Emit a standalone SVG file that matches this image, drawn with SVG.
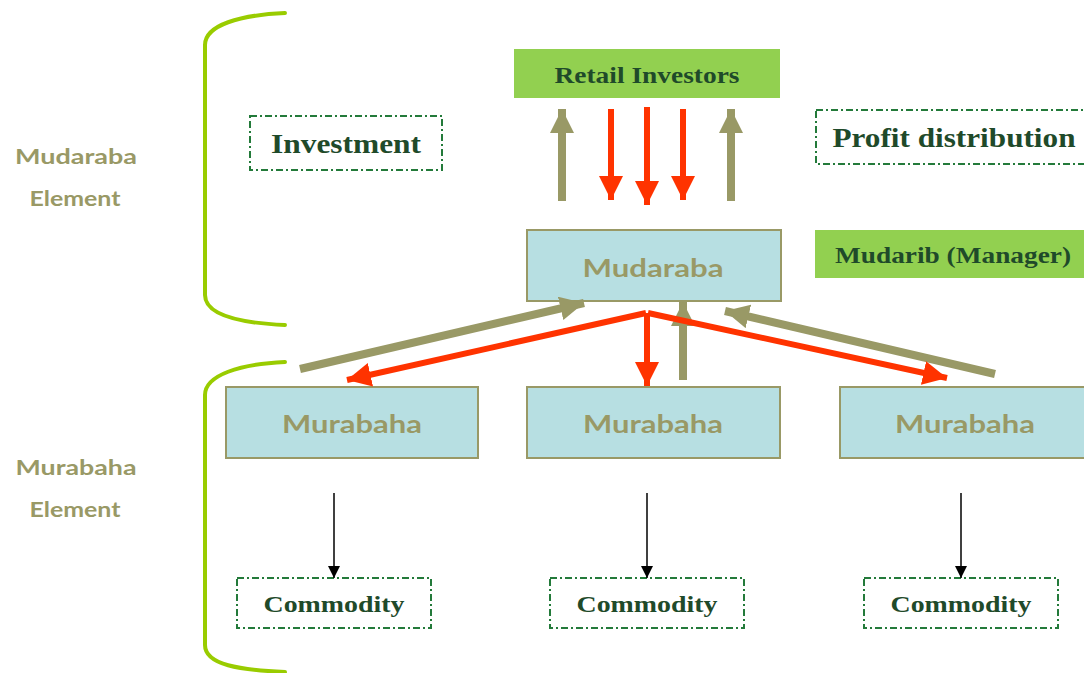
<svg xmlns="http://www.w3.org/2000/svg" width="1084" height="673" viewBox="0 0 1084 673">
<style>
.green{fill:#92d050;}
.blue{fill:#b7dfe2;stroke:#999966;stroke-width:2;}
.dash{fill:none;stroke:#237a3a;stroke-width:2;stroke-dasharray:7 3 2 3;}
.serif{font-family:"Liberation Serif","DejaVu Serif",serif;font-weight:bold;fill:#1f4a2a;text-anchor:middle;}
.sans{font-family:Lato,"DejaVu Sans",sans-serif;font-weight:bold;fill:#999966;text-anchor:middle;}
.brace{fill:none;stroke:#99cc00;stroke-width:4;stroke-linecap:round;}
.olive{stroke:#999966;stroke-width:8;fill:none;}
.red{stroke:#ff3300;stroke-width:6;fill:none;}
.blk{stroke:#000;stroke-width:1.5;fill:none;}
</style>
<defs>
<marker id="hOlive" markerUnits="userSpaceOnUse" markerWidth="26" markerHeight="26" refX="24" refY="12" orient="auto"><path d="M0,0 L24,12 L0,24 z" fill="#999966"/></marker>
<marker id="hRed" markerUnits="userSpaceOnUse" markerWidth="26" markerHeight="26" refX="24" refY="12" orient="auto"><path d="M0,0 L24,12 L0,24 z" fill="#ff3300"/></marker>
<marker id="hBlk" markerUnits="userSpaceOnUse" markerWidth="14" markerHeight="12" refX="12" refY="6" orient="auto"><path d="M0,0 L12,6 L0,12 z" fill="#000"/></marker>
</defs>

<g id="braces">
<path class="brace" d="M285,13 C240,15 205,25 205,45 L205,295 C205,315 240,323 285,325"/>
<path class="brace" d="M285,362 C240,364 205,375 205,395 L205,645 C205,665 240,670 285,672"/>
</g>

<g id="label-mudaraba-element">
<text class="sans" x="76" y="164" font-size="21" textLength="122" lengthAdjust="spacingAndGlyphs">Mudaraba</text>
<text class="sans" x="75" y="206" font-size="21" textLength="91" lengthAdjust="spacingAndGlyphs">Element</text>
</g>
<g id="label-murabaha-element">
<text class="sans" x="76" y="475" font-size="21" textLength="121" lengthAdjust="spacingAndGlyphs">Murabaha</text>
<text class="sans" x="75" y="517" font-size="21" textLength="91" lengthAdjust="spacingAndGlyphs">Element</text>
</g>

<g id="retail-investors">
<rect class="green" x="514" y="49" width="266" height="49"/>
<text class="serif" x="647" y="83" font-size="23" textLength="185" lengthAdjust="spacingAndGlyphs">Retail Investors</text>
</g>

<g id="investment">
<rect class="dash" x="250" y="116" width="192" height="54"/>
<text class="serif" x="346" y="153" font-size="27" textLength="150" lengthAdjust="spacingAndGlyphs">Investment</text>
</g>

<g id="profit-distribution">
<rect class="dash" x="816" y="110" width="280" height="54"/>
<text class="serif" x="954" y="147" font-size="27" textLength="243" lengthAdjust="spacingAndGlyphs">Profit distribution</text>
</g>

<g id="mudaraba">
<rect class="blue" x="527" y="230" width="254" height="71"/>
<text class="sans" x="653" y="277" font-size="25" textLength="141" lengthAdjust="spacingAndGlyphs">Mudaraba</text>
</g>

<g id="mudarib-manager">
<rect class="green" x="815" y="230" width="275" height="48"/>
<text class="serif" x="953" y="263" font-size="23" textLength="236" lengthAdjust="spacingAndGlyphs">Mudarib (Manager)</text>
</g>

<g id="murabaha-1">
<rect class="blue" x="226" y="387" width="252" height="71"/>
<text class="sans" x="352" y="433" font-size="25" textLength="140" lengthAdjust="spacingAndGlyphs">Murabaha</text>
</g>
<g id="murabaha-2">
<rect class="blue" x="527" y="387" width="253" height="71"/>
<text class="sans" x="653" y="433" font-size="25" textLength="140" lengthAdjust="spacingAndGlyphs">Murabaha</text>
</g>
<g id="murabaha-3">
<rect class="blue" x="840" y="387" width="252" height="71"/>
<text class="sans" x="965" y="433" font-size="25" textLength="140" lengthAdjust="spacingAndGlyphs">Murabaha</text>
</g>

<g id="commodity-1">
<rect class="dash" x="237" y="578" width="194" height="50"/>
<text class="serif" x="334" y="612" font-size="23" textLength="141" lengthAdjust="spacingAndGlyphs">Commodity</text>
</g>
<g id="commodity-2">
<rect class="dash" x="550" y="578" width="194" height="50"/>
<text class="serif" x="647" y="612" font-size="23" textLength="141" lengthAdjust="spacingAndGlyphs">Commodity</text>
</g>
<g id="commodity-3">
<rect class="dash" x="864" y="578" width="194" height="50"/>
<text class="serif" x="961" y="612" font-size="23" textLength="141" lengthAdjust="spacingAndGlyphs">Commodity</text>
</g>

<g id="connectors">
<line class="olive" x1="562" y1="201" x2="562" y2="109" marker-end="url(#hOlive)"/>
<line class="olive" x1="731" y1="201" x2="731" y2="109" marker-end="url(#hOlive)"/>
<line class="red" x1="611" y1="109" x2="611" y2="200" marker-end="url(#hRed)"/>
<line class="red" x1="647" y1="107" x2="647" y2="205" marker-end="url(#hRed)"/>
<line class="red" x1="683" y1="109" x2="683" y2="200" marker-end="url(#hRed)"/>

<line class="olive" x1="300" y1="369" x2="584" y2="303" marker-end="url(#hOlive)"/>
<line class="olive" x1="683" y1="380" x2="683" y2="302" marker-end="url(#hOlive)"/>
<line class="olive" x1="995" y1="374" x2="725" y2="311" marker-end="url(#hOlive)"/>

<line class="red" x1="646" y1="313" x2="347" y2="380" marker-end="url(#hRed)"/>
<line class="red" x1="647" y1="313" x2="647" y2="386" marker-end="url(#hRed)"/>
<line class="red" x1="648" y1="313" x2="947" y2="378" marker-end="url(#hRed)"/>

<line class="blk" x1="334" y1="493" x2="334" y2="578" marker-end="url(#hBlk)"/>
<line class="blk" x1="647" y1="493" x2="647" y2="578" marker-end="url(#hBlk)"/>
<line class="blk" x1="961" y1="493" x2="961" y2="578" marker-end="url(#hBlk)"/>
</g>
</svg>
